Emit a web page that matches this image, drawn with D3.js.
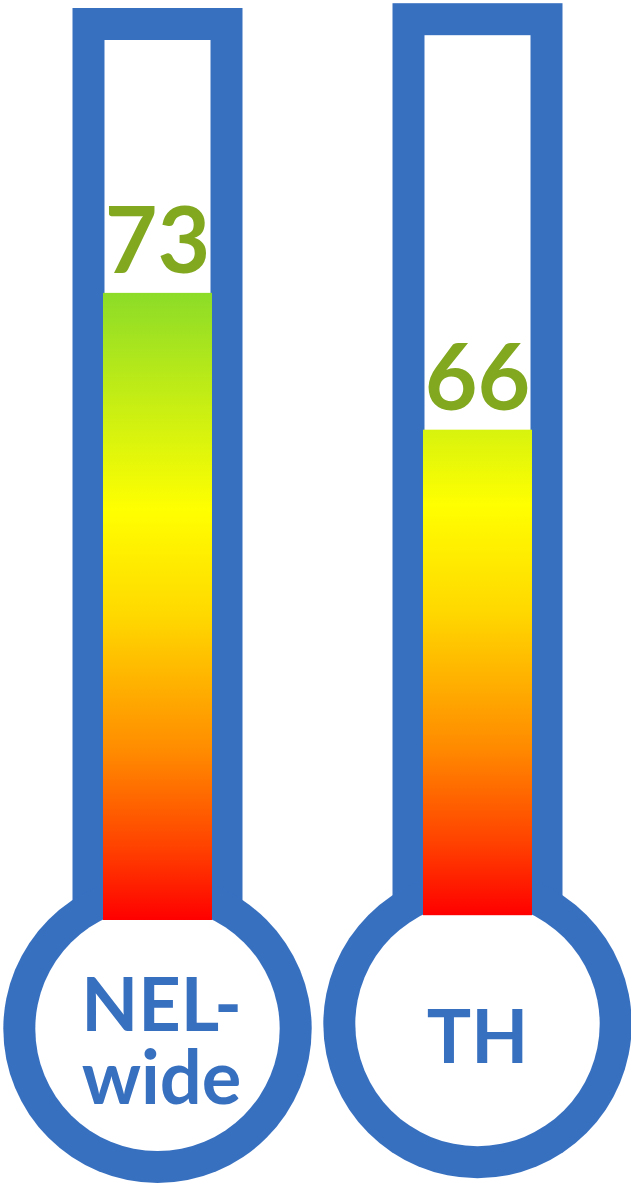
<!DOCTYPE html>
<html>
<head>
<meta charset="utf-8">
<script src="https://cdn.jsdelivr.net/npm/d3@7"></script>
<style>
  html, body { margin: 0; padding: 0; background: #ffffff; }
  svg { display: block; }
</style>
</head>
<body>
<svg id="chart" width="631" height="1189"></svg>
<script>
// Thermometer readings
const groups = ["NEL-wide", "TH"];
const labelLines = [["NEL-", "wide"], ["TH"]];
const values = [73, 66];
const scaleDomain = [42, 85.5];

// Colour ramp along the value axis (value -> colour)
const rampValues = [42, 45.5, 50.4, 57, 62.3, 73];
const rampColors = ["#ff0000", "#ff4000", "#ff8c00", "#ffd800", "#ffff00", "#8cdc28"];

const BLUE = "#3870c0";
const GREEN = "#82a820";

const svg = d3.select("#chart");
const defs = svg.append("defs");

// Horizontal placement of the two thermometers
const xPos = d3.scalePoint().domain(groups).range([157.5, 477.5]);
const yShift = d3.scaleLinear().domain([0, 1]).range([0, -4.8]);
const labelNudge = [4, 0];

const outerR = 154.2, innerR = 122.2;
const stemOuter = 170, border = 32, fillW = 109;
const bulbCy = 1028.8;

groups.forEach((g, i) => {
  const cx = xPos(g);
  const cy = bulbCy + yShift(i);
  const fillBottom = cy - 108.8;
  const innerTop = cy - 988.8;
  const y = d3.scaleLinear().domain(scaleDomain).range([fillBottom, innerTop]);

  const gEl = svg.append("g").attr("class", "thermo");

  // gradient tied to the value scale
  const gradId = "ramp" + i;
  const grad = defs.append("linearGradient")
    .attr("id", gradId)
    .attr("gradientUnits", "userSpaceOnUse")
    .attr("x1", 0).attr("x2", 0)
    .attr("y1", y(rampValues[0]))
    .attr("y2", y(rampValues[rampValues.length - 1]));
  const span = rampValues[rampValues.length - 1] - rampValues[0];
  grad.selectAll("stop").data(rampValues).join("stop")
    .attr("offset", v => (v - rampValues[0]) / span)
    .attr("stop-color", (v, k) => rampColors[k]);

  // blue casing
  gEl.append("rect")
    .attr("x", cx - stemOuter / 2).attr("y", innerTop - border)
    .attr("width", stemOuter).attr("height", cy - innerTop + border)
    .attr("fill", BLUE);
  gEl.append("circle").attr("cx", cx).attr("cy", cy).attr("r", outerR).attr("fill", BLUE);

  // white interior
  gEl.append("rect")
    .attr("x", cx - (stemOuter / 2 - border)).attr("y", innerTop)
    .attr("width", stemOuter - 2 * border).attr("height", cy - innerTop)
    .attr("fill", "#ffffff");
  gEl.append("circle").attr("cx", cx).attr("cy", cy).attr("r", innerR).attr("fill", "#ffffff");

  // mercury column
  gEl.append("rect")
    .attr("x", cx - fillW / 2).attr("y", y(values[i]))
    .attr("width", fillW).attr("height", y(scaleDomain[0]) - y(values[i]))
    .attr("fill", `url(#${gradId})`);

  // value label
  gEl.append("text")
    .attr("x", cx).attr("y", y(values[i]) - 20)
    .attr("text-anchor", "middle")
    .attr("font-family", "Lato, sans-serif")
    .attr("font-weight", "bold")
    .attr("font-size", 91)
    .attr("fill", GREEN)
    .text(values[i]);

  // bulb label
  const lines = labelLines[i];
  const lineH = 73.4;
  const firstBase = cy + 38.7 - lineH * (lines.length - 1) / 2;
  const t = gEl.append("text")
    .attr("text-anchor", "middle")
    .attr("font-family", "Lato, sans-serif")
    .attr("font-weight", "bold")
    .attr("font-size", 74)
    .attr("fill", BLUE);
  lines.forEach((ln, k) => {
    t.append("tspan").attr("x", cx + labelNudge[i]).attr("y", firstBase + k * lineH).text(ln);
  });
});
</script>
</body>
</html>
